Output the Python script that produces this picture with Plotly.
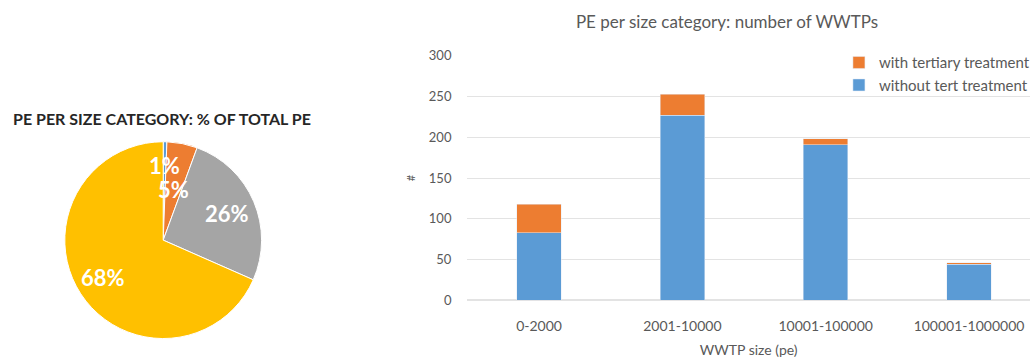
import math
import plotly.graph_objects as go

W, H = 1035, 358

# ---- data ----
size_categories = ["0-2000", "2001-10000", "10001-100000", "100001-1000000"]
pe_share = [0.6, 5.0, 26.0, 68.4]          # % of total PE (pie)
pe_share_labels = ["1%", "5%", "26%", "68%"]
n_without_tert = [83, 227, 191, 44]
n_with_tert = [35, 26, 7, 2]
y_ticks = [0, 50, 100, 150, 200, 250, 300]

# ---- style ----
pie_colors = ["#5B9BD5", "#ED7D31", "#A5A5A5", "#FFC000"]
label_radius_frac = [0.76, 0.52, 0.68, 0.70]
FONT = "Lato, 'Open Sans', sans-serif"
GREY = "#595959"

fig = go.Figure()

# pie geometry (pixels)
pcx, pcy, pr = 164, 243, 103
fig.add_trace(go.Pie(
    labels=size_categories, values=pe_share, sort=False, direction="clockwise",
    rotation=0, marker=dict(colors=pie_colors, line=dict(color="#ffffff", width=1)),
    textinfo="none", hoverinfo="label+percent", showlegend=False,
    domain=dict(x=[(pcx - pr) / W, (pcx + pr) / W], y=[1 - (pcy + pr) / H, 1 - (pcy - pr) / H]),
))

fig.add_trace(go.Bar(x=size_categories, y=n_without_tert, name="without tert treatment",
                     marker_color="#5B9BD5", legendrank=2))
fig.add_trace(go.Bar(x=size_categories, y=n_with_tert, name="with tertiary treatment",
                     marker_color="#ED7D31", legendrank=1))

annotations = []
# pie percentage labels at slice mid-angles
total = sum(pe_share)
cum = 0.0
for v, lab, f in zip(pe_share, pe_share_labels, label_radius_frac):
    mid = (cum + v / 2) / total * 2 * math.pi
    cum += v
    px = pcx + pr * f * math.sin(mid)
    py = pcy - pr * f * math.cos(mid)
    annotations.append(dict(x=px / W, y=1 - py / H, xref="paper", yref="paper",
                            xanchor="center", yanchor="middle",
                            text=lab, showarrow=False,
                            font=dict(family=FONT, size=22, color="#ffffff", weight="bold")))
annotations.append(dict(x=162.5 / W, y=1 - 116 / H, xref="paper", yref="paper",
                        xanchor="center", yanchor="middle",
                        text="PE PER SIZE CATEGORY: % OF TOTAL PE", showarrow=False,
                        font=dict(family=FONT, size=16, color="#262626", weight="bold")))

plot_left = 469.7
cat_w = 144.0
fig.update_layout(
    width=W, height=H, margin=dict(l=0, r=0, t=0, b=0),
    paper_bgcolor="white", plot_bgcolor="white",
    barmode="stack", bargap=0.69,
    font=dict(family=FONT, color=GREY, size=13),
    title=dict(text="PE per size category: number of WWTPs", x=727 / W, xanchor="center",
               y=1 - 22 / H, yanchor="middle", font=dict(size=17, color=GREY, family=FONT)),
    xaxis=dict(domain=[plot_left / W, 1], range=[-0.5, -0.5 + (W - plot_left) / cat_w],
               showgrid=False, showline=False, zeroline=False, ticks="",
               ticklabelstandoff=16, tickfont=dict(size=14, color=GREY),
               title=dict(text="WWTP size (pe)", standoff=12, font=dict(size=14, color=GREY))),
    yaxis=dict(domain=[1 - 306 / H, 1 - 50 / H], range=[0, 300], tickvals=y_ticks,
               showgrid=True, gridcolor="#e3e3e3", gridwidth=1, zeroline=True,
               zerolinecolor="#e3e3e3", showline=False, ticks="", ticklabelstandoff=15,
               tickfont=dict(size=13, color=GREY),
               title=dict(text="#", standoff=10, font=dict(size=11, color=GREY))),
    legend=dict(x=843 / W, xanchor="left", y=1 - 40 / H, yanchor="top",
                traceorder="normal", tracegroupgap=4,
                font=dict(size=15, color=GREY), bgcolor="rgba(0,0,0,0)"),
    annotations=annotations,
)

fig.write_html("out.html")
